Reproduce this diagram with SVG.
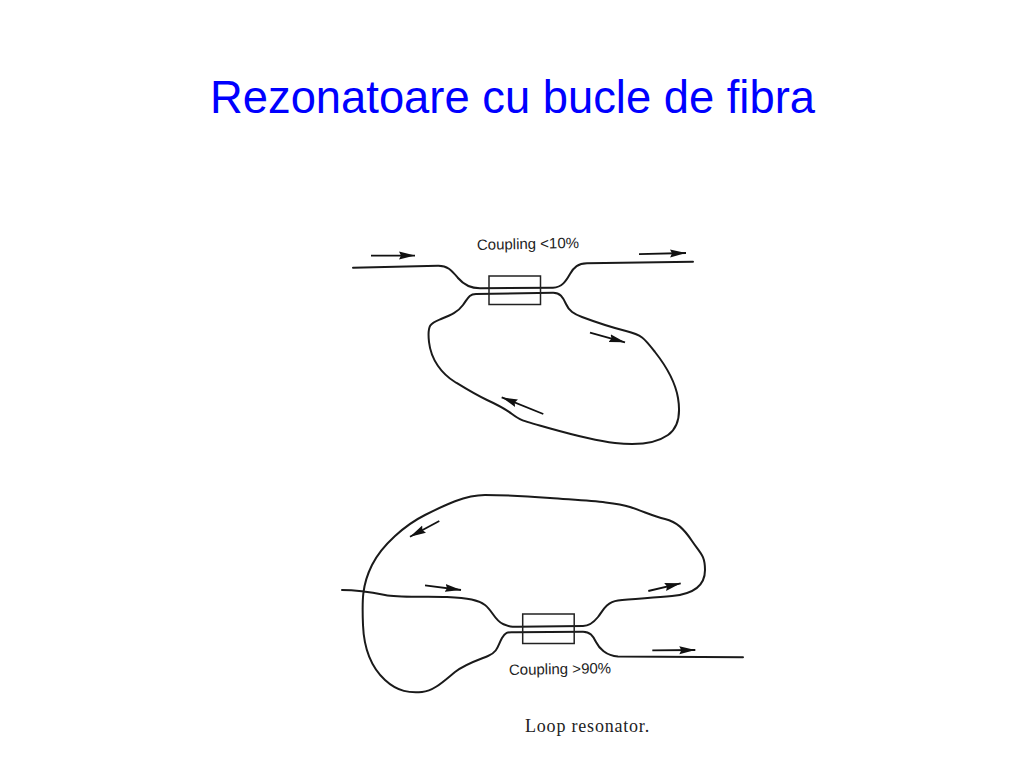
<svg xmlns="http://www.w3.org/2000/svg" width="1024" height="768" viewBox="0 0 1024 768">
<style>
.fiber{fill:none;stroke:#1a1a1a;stroke-width:2;stroke-linecap:round;stroke-linejoin:round}
.box{fill:none;stroke:#222;stroke-width:1.5}
.flow{fill:none;stroke:#111;stroke-width:1.8;marker-end:url(#head)}
.label{font-family:"Liberation Sans",Arial,sans-serif;font-size:15px;fill:#222}
</style>
<defs>
<marker id="head" markerUnits="userSpaceOnUse" markerWidth="18" markerHeight="10" refX="16" refY="5" orient="auto">
<path d="M0 1L16 5L0 9L2 5Z" fill="#111"/>
</marker>
</defs>
<rect width="1024" height="768" fill="#fff"/>
<text id="title" x="210" y="112.5" font-family="'Liberation Sans',Arial,sans-serif" font-size="45.35" fill="#0000ff">Rezonatoare cu bucle de fibra</text>
<g id="connectors">
<path class="fiber" d="M353 267.7L438 265.7C448 265.5 452 271 458 278S470 288.3 480 288.3L553 287.7C562 287.5 566 281 570 274S578 263.5 587 263.3L693 261.7"/>
<path class="fiber" d="M476 294L553 292.7C560 292.6 563 297 566 304S574 314 582 317S610 327 626 331S644 338 655 352S675 380 678 398S678 428 668 435S640 446 615 443S570 434 545 427S520 420 512 414S498 405 487 400S468 390 455 382S431 360 429 342S431 323 441 319S458 312 463 305S469 294 476 294Z"/>
<path class="fiber" d="M342 590C355 590 370 592 385 595S425 596 447 597S478 600 485 605S495 621 503 624S510 626.8 518 626.8L583 626C590 626 594 622 598 617S606 602 618 600.5S650 598 672 596S705 585 705 570S700 553 692 541S677 522 665 519S645 512 630 507S590 501 550 498S505 495 485 495S445 505 425 515S382 545 372 565S362 600 363 625S372 668 385 680S410 693 422 692S445 680 455 672S478 660 488 656S498 645 502 638S508 632.3 516 632.3L583 631.7C590 631.7 593 636 596 642S606 656 618 656.5L743 657.3"/>
<path class="flow" d="M371 255.6H415"/>
<path class="flow" d="M639 254.2L686 253"/>
<path class="flow" d="M590 332.7L625 342.3"/>
<path class="flow" d="M543.3 414L501.7 397.3"/>
<path class="flow" d="M439.3 521L410 536.7"/>
<path class="flow" d="M425 585.3L461 590"/>
<path class="flow" d="M648.3 591L680.7 583.3"/>
<path class="flow" d="M652.3 650.4L695.3 650"/>
</g>
<g id="coupler-top">
<rect class="box" x="489" y="276" width="51.5" height="28.5"/>
<text class="label" x="477" y="250" transform="rotate(-1.2 477 250)">Coupling &lt;10%</text>
</g>
<g id="coupler-bottom">
<rect class="box" x="522.7" y="614" width="51.5" height="29.5"/>
<text class="label" x="509" y="675" transform="rotate(-1 509 675)">Coupling &gt;90%</text>
</g>
<text id="caption" x="525" y="732" font-family="'Liberation Serif','Times New Roman',serif" font-size="18" letter-spacing="0.8" fill="#222">Loop resonator.</text>
</svg>
